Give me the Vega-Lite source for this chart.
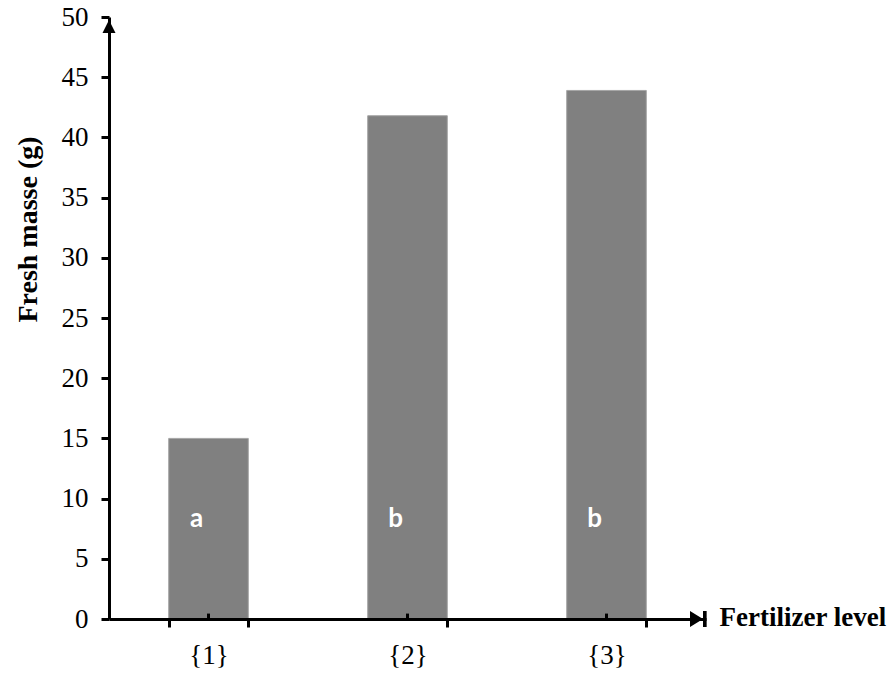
{
  "$schema": "https://vega.github.io/schema/vega-lite/v6.json",
  "width": 597,
  "height": 602,
  "autosize": "none",
  "padding": {"left": 109, "top": 17, "right": 186, "bottom": 54},
  "background": "white",
  "config": {"view": {"stroke": null}, "axis": {"grid": false}},
  "data": {
    "values": [
      {"level": "{1}", "mass": 15.0, "group": "a"},
      {"level": "{2}", "mass": 41.8, "group": "b"},
      {"level": "{3}", "mass": 43.9, "group": "b"}
    ]
  },
  "layer": [
    {
      "mark": {"type": "bar", "color": "#808080", "stroke": "#a6a6a6", "strokeWidth": 1},
      "encoding": {
        "x": {
          "field": "level",
          "type": "nominal",
          "sort": null,
          "scale": {"paddingInner": 0.6, "paddingOuter": 0.3},
          "axis": {
            "orient": "bottom",
            "zindex": 1,
            "tickBand": "extent",
            "labelAngle": 0,
            "labelFont": "Liberation Serif",
            "labelFontSize": 27,
            "labelColor": "black",
            "labelPadding": 15,
            "domainColor": "black",
            "domainWidth": 3,
            "tickColor": "black",
            "tickWidth": 3,
            "tickSize": 8,
            "title": "Fertilizer level",
            "titleFont": "Liberation Serif",
            "titleFontSize": 27,
            "titleFontWeight": "bold",
            "titleColor": "black",
            "titleX": 610,
            "titleY": 6,
            "titleAlign": "left",
            "titleBaseline": "alphabetic"
          }
        },
        "y": {
          "field": "mass",
          "type": "quantitative",
          "scale": {"domain": [0, 50], "nice": false},
          "axis": {
            "zindex": 1,
            "values": [0, 5, 10, 15, 20, 25, 30, 35, 40, 45, 50],
            "labelFont": "Liberation Serif",
            "labelFontSize": 27,
            "labelColor": "black",
            "labelPadding": 13,
            "domainColor": "black",
            "domainWidth": 3,
            "tickColor": "black",
            "tickWidth": 3,
            "tickSize": 8,
            "title": "Fresh masse (g)",
            "titleFont": "Liberation Serif",
            "titleFontSize": 28,
            "titleFontWeight": "bold",
            "titleColor": "black",
            "titleAngle": -90,
            "titleX": -73,
            "titleY": 212,
            "titleAlign": "center",
            "titleBaseline": "alphabetic"
          }
        }
      }
    },
    {
      "mark": {"type": "rule", "color": "black", "strokeWidth": 3},
      "encoding": {
        "x": {"field": "level", "type": "nominal", "sort": null},
        "y": {"datum": 0},
        "y2": {"datum": 0.45}
      }
    },
    {
      "mark": {"type": "text", "font": "Lato", "fontWeight": "bold", "fontSize": 26, "color": "white", "dx": -12, "baseline": "middle"},
      "encoding": {
        "x": {"field": "level", "type": "nominal", "sort": null},
        "y": {"datum": 8.3},
        "text": {"field": "group"}
      }
    },
    {
      "data": {"values": [{"axis": "y"}]},
      "mark": {"type": "point", "filled": true, "color": "black", "opacity": 1, "strokeWidth": 0, "size": 169, "shape": "M0,0.46L1,2.46L-1,2.46Z"},
      "encoding": {
        "x": {"value": 0},
        "y": {"datum": 50}
      }
    },
    {
      "data": {"values": [{"axis": "x"}]},
      "mark": {"type": "point", "filled": true, "color": "black", "opacity": 1, "strokeWidth": 0, "size": 169, "shape": "M-2.46,-1.23L-0.46,0L-2.46,1.23Z M-0.46,-1.23L0.1,-1.23L0.1,1.23L-0.46,1.23Z"},
      "encoding": {
        "x": {"value": "width"},
        "y": {"datum": 0}
      }
    }
  ]
}
